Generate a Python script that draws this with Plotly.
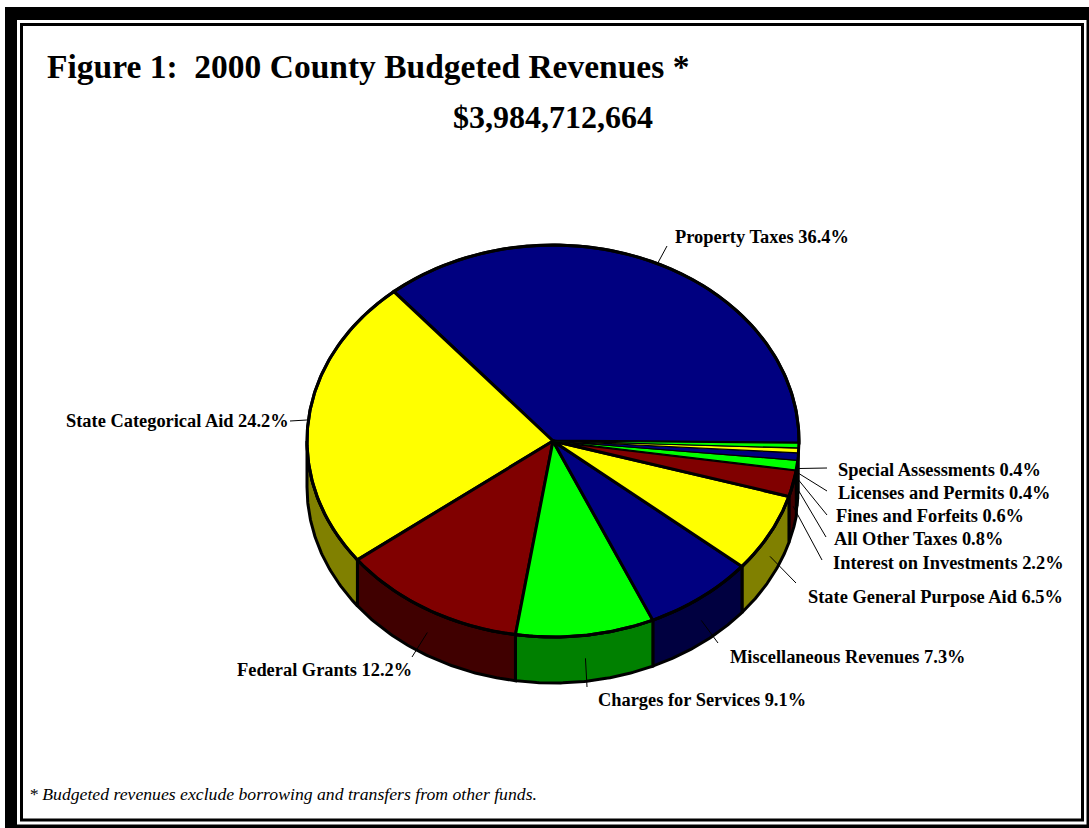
import numpy as np
import plotly.graph_objects as go

# ---- data (clockwise from the 3 o'clock position) ----
categories = ["Special Assessments", "Licenses and Permits", "Fines and Forfeits",
              "All Other Taxes", "Interest on Investments", "State General Purpose Aid",
              "Miscellaneous Revenues", "Charges for Services", "Federal Grants",
              "State Categorical Aid", "Property Taxes"]
shares = [0.4, 0.4, 0.6, 0.8, 2.2, 6.5, 7.3, 9.1, 12.2, 24.2, 36.4]
top_colors = ["#00FF00", "#FFFF00", "#000080", "#00FF00", "#800000", "#FFFF00",
              "#000080", "#00FF00", "#800000", "#FFFF00", "#000080"]
side_colors = ["#008000", "#808000", "#000040", "#008000", "#400000", "#808000",
               "#000040", "#008000", "#400000", "#808000", "#000040"]
title_text = "Figure 1:\u00a0\u00a02000 County Budgeted Revenues *"
total_text = "$3,984,712,664"
foot_text = "* Budgeted revenues exclude borrowing and transfers from other funds."

# label anchor (left edge, middle) in page pixels
label_x = [838, 838, 836, 834, 833, 808, 730, 598, 237, 66, 675]
label_y = [470, 493, 516, 539, 563, 597, 657, 700, 670, 421, 237]
# outer end of each leader in page pixels
lead_x = [827, 827, 827, 826, 822, 796, 718, 587, 412, 290, 667]
lead_y = [468, 491, 515, 537, 560, 583, 643, 687, 657, 421, 246]

CX, CY, RX, RY, DEPTH = 553.0, 441.0, 246.0, 196.0, 46.0
EDGE = 3.0
THIN = 1.2
PAD = 2  # Plotly's annotation padding
FONT = "Liberation Serif"
ROTATION = np.radians(0.6)

cum = np.concatenate([[0], np.cumsum(shares)])
theta = cum / cum[-1] * 2 * np.pi + ROTATION


def rim(a):
    return CX + RX * np.cos(a), CY + RY * np.sin(a)


fig = go.Figure()

# side walls (only the near half of the disc shows)
for i in range(len(shares)):
    a0, a1 = theta[i], min(theta[i + 1], np.pi)
    if a0 >= np.pi:
        continue
    t = np.linspace(a0, a1, 60)
    x, y = rim(t)
    fig.add_trace(go.Scatter(
        x=np.concatenate([x, x[::-1], x[:1]]),
        y=np.concatenate([y, y[::-1] + DEPTH, y[:1]]),
        mode="lines", fill="toself", fillcolor=side_colors[i],
        line=dict(color="black", width=EDGE if shares[i] >= 1 else THIN),
        hoverinfo="skip", showlegend=False))

# top face, largest first so that the slivers stay visible
for i in np.argsort(shares)[::-1]:
    t = np.linspace(theta[i], theta[i + 1], 200)
    x, y = rim(t)
    fig.add_trace(go.Scatter(
        x=np.concatenate([[CX], x, [CX]]), y=np.concatenate([[CY], y, [CY]]),
        mode="lines", fill="toself", fillcolor=top_colors[i],
        line=dict(color="black", width=EDGE if shares[i] >= 1 else THIN),
        name=categories[i], hoverinfo="name", showlegend=False))

# rim outlines drawn over the faces
t = np.linspace(0, 2 * np.pi, 400)
x, y = rim(t)
fig.add_trace(go.Scatter(x=x, y=y, mode="lines", line=dict(color="black", width=EDGE),
                         hoverinfo="skip", showlegend=False))

# leaders start at the slice's mid angle
annotations = []
for i, (cat, val) in enumerate(zip(categories, shares)):
    mid = (theta[i] + theta[i + 1]) / 2
    sx, sy = rim(mid)
    if np.sin(mid) > 0:
        sy += DEPTH / 2
    fig.add_trace(go.Scatter(x=[sx, lead_x[i]], y=[sy, lead_y[i]], mode="lines",
                             line=dict(color="black", width=1), hoverinfo="skip",
                             showlegend=False))
    annotations.append(dict(x=label_x[i] - PAD, y=label_y[i], text=f"<b>{cat} {val}%</b>",
                            xref="x", yref="y", xanchor="left", yanchor="middle",
                            showarrow=False,
                            font=dict(family=FONT, size=18.4, color="black")))

annotations += [
    dict(x=47 - PAD, y=66, text=f"<b>{title_text}</b>", xref="x", yref="y", xanchor="left",
         yanchor="middle", showarrow=False, font=dict(family=FONT, size=33.5, color="black")),
    dict(x=453 - PAD, y=117, text=f"<b>{total_text}</b>", xref="x", yref="y", xanchor="left",
         yanchor="middle", showarrow=False, font=dict(family=FONT, size=32, color="black")),
    dict(x=29 - PAD, y=794, text=f"<i>{foot_text}</i>", xref="x", yref="y", xanchor="left",
         yanchor="middle", showarrow=False, font=dict(family=FONT, size=17.7, color="black")),
]

shapes = [
    dict(type="rect", xref="x", yref="y", x0=5, y0=7, x1=1089, y1=828,
         fillcolor="black", line_width=0, layer="below"),
    dict(type="rect", xref="x", yref="y", x0=17, y0=20, x1=1086.5, y1=824.5,
         fillcolor="white", line_width=0, layer="below"),
    dict(type="rect", xref="x", yref="y", x0=21.5, y0=24.5, x1=1082.5, y1=820,
         fillcolor="white", line=dict(color="black", width=3), layer="below"),
]

fig.update_layout(
    width=1089, height=828, margin=dict(l=0, r=0, t=0, b=0),
    paper_bgcolor="white", plot_bgcolor="white",
    xaxis=dict(range=[0, 1089], visible=False, fixedrange=True),
    yaxis=dict(range=[828, 0], visible=False, fixedrange=True),
    showlegend=False, shapes=shapes, annotations=annotations,
)
fig.write_html("out.html", post_script="document.body.style.margin='0';document.body.style.overflow='hidden';",
               config=dict(displayModeBar=False))
